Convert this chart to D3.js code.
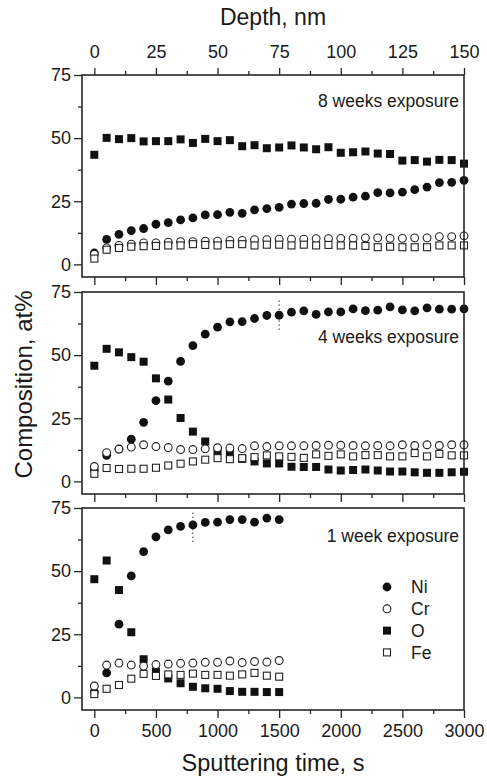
<!DOCTYPE html>
<html>
<head>
<meta charset="utf-8">
<script src="https://cdn.jsdelivr.net/npm/d3@7"></script>
<style>
  html, body { margin: 0; padding: 0; background: #fff; }
  svg { display: block; }
  text { font-family: "Liberation Sans", Arial, Helvetica, sans-serif; fill: #1a1a1a; }
</style>
</head>
<body>
<svg id="chart" width="487" height="778"></svg>
<script>
// ---------------- DATA ----------------
const timesFull = d3.range(0, 3001, 100);   // 0..3000 s, step 100
const timesShort = d3.range(0, 1501, 100);  // 0..1500 s, step 100

// 8 weeks exposure
const ni8 = [4.5, 9.9, 11.9, 13.4, 14.2, 15.9, 16.5, 17.6, 18.4, 19.6, 19.7, 20.6, 20.2, 21.6, 22.1, 22.6, 23.9, 24.1, 24.2, 25.7, 25.8, 26.6, 27.0, 28.4, 28.3, 28.6, 29.6, 30.6, 32.4, 32.5, 33.3];
const cr8 = [4.0, 6.5, 7.5, 8.0, 8.5, 8.5, 8.8, 9.0, 9.0, 9.2, 9.2, 9.5, 9.5, 9.8, 9.8, 10.0, 10.0, 10.0, 10.2, 10.2, 10.3, 10.3, 10.5, 10.5, 10.3, 10.3, 10.5, 10.5, 11.0, 11.0, 11.3];
const o8  = [43.4, 50.1, 49.6, 50.0, 48.7, 48.8, 48.8, 49.5, 48.1, 49.7, 48.8, 49.2, 46.8, 47.2, 46.0, 46.3, 47.1, 46.3, 45.6, 46.4, 44.2, 44.4, 44.7, 43.9, 43.7, 41.1, 41.3, 40.7, 41.4, 41.3, 39.9];
const fe8 = [2.3, 5.8, 6.5, 7.0, 7.2, 7.3, 7.5, 7.5, 8.0, 7.7, 7.5, 8.0, 8.0, 7.5, 7.8, 7.8, 7.5, 7.8, 7.5, 7.7, 7.5, 7.5, 7.3, 6.8, 7.0, 6.8, 6.8, 6.8, 7.5, 7.5, 7.5];

// 4 weeks exposure
const ni4 = [4.5, 10.3, 12.8, 16.7, 23.4, 32.0, 39.7, 47.5, 53.8, 58.3, 61.1, 63.2, 63.3, 64.5, 65.7, 65.8, 67.0, 67.5, 66.1, 67.1, 67.1, 68.3, 67.6, 67.8, 69.1, 67.9, 67.5, 68.7, 68.2, 68.2, 68.3];
const cr4 = [5.9, 11.4, 12.8, 13.6, 14.5, 13.8, 13.4, 12.6, 12.6, 12.9, 13.3, 13.2, 13.0, 14.1, 13.8, 14.1, 14.1, 14.1, 14.2, 14.3, 14.3, 14.2, 14.1, 14.2, 14.1, 14.5, 14.2, 14.5, 14.2, 14.5, 14.5];
const o4  = [45.8, 52.5, 51.1, 49.2, 47.4, 40.8, 32.4, 25.1, 19.7, 15.8, 12.0, 10.9, 8.9, 7.9, 7.1, 7.1, 5.8, 5.7, 5.7, 4.7, 4.3, 4.5, 4.7, 4.3, 3.9, 3.9, 3.6, 3.4, 3.4, 3.6, 3.8];
const fe4 = [3.0, 5.3, 4.9, 5.0, 5.0, 5.4, 6.3, 7.0, 7.9, 8.6, 9.2, 8.8, 9.2, 9.6, 10.3, 9.9, 9.7, 9.3, 10.7, 10.1, 10.7, 9.9, 10.4, 10.4, 9.9, 9.9, 11.2, 9.9, 10.9, 10.3, 10.3];

// 1 week exposure
const ni1 = [2.2, 9.7, 29.0, 48.1, 57.7, 63.6, 66.3, 67.7, 68.3, 69.3, 69.4, 70.4, 70.4, 69.4, 71.0, 70.4];
const cr1 = [4.5, 12.8, 13.6, 12.8, 12.4, 13.0, 13.2, 13.5, 13.6, 13.9, 13.9, 14.4, 13.8, 14.2, 14.0, 14.6];
const o1  = [46.8, 54.2, 42.5, 25.8, 15.1, 10.2, 7.5, 5.6, 4.2, 3.6, 3.4, 2.5, 2.2, 2.2, 2.1, 2.1];
const fe1 = [1.3, 3.4, 4.9, 7.4, 9.3, 8.5, 9.1, 8.9, 9.4, 8.9, 8.9, 8.6, 9.1, 9.7, 8.6, 8.2];

const panelLabels = ["8 weeks exposure", "4 weeks exposure", "1 week exposure"];
const dottedMarks = [null, {t: 1500, y0: 60, y1: 72}, {t: 800, y0: 61.5, y1: 73.5}];

const xTickValues = [0, 500, 1000, 1500, 2000, 2500, 3000];
const xMinorValues = [250, 750, 1250, 1750, 2250, 2750];
const depthTickValues = [0, 25, 50, 75, 100, 125, 150];
const depthMinorValues = [12.5, 37.5, 62.5, 87.5, 112.5, 137.5];
const yTickValues = [0, 25, 50, 75];
const yMinorValues = [12.5, 37.5, 62.5];

const elements = ["Ni", "Cr", "O", "Fe"];

const panels = [
  {times: timesFull, series: {Ni: ni8, Cr: cr8, O: o8, Fe: fe8}},
  {times: timesFull, series: {Ni: ni4, Cr: cr4, O: o4, Fe: fe4}},
  {times: timesShort, series: {Ni: ni1, Cr: cr1, O: o1, Fe: fe1}}
];

// ---------------- LAYOUT ----------------
const svg = d3.select("#chart");
const left = 82, right = 464;
const panelTops = [75, 292, 508];
const panelH = 202;
const frameColor = "#262626";

const x = d3.scaleLinear().domain([-100, 3000]).range([left, right]);
const xDepth = d3.scaleLinear().domain([-5, 150]).range([left, right]);

// draw order: Ni, O, Cr, Fe
const drawOrder = ["Ni", "O", "Cr", "Fe"];

function drawMarker(g, el, cx, cy) {
  if (el === "Ni") {
    g.append("circle").attr("cx", cx).attr("cy", cy).attr("r", 4.4).attr("fill", "#111");
  } else if (el === "Cr") {
    g.append("circle").attr("cx", cx).attr("cy", cy).attr("r", 3.9)
      .attr("fill", "#fff").attr("stroke", "#222").attr("stroke-width", 1.1);
  } else if (el === "O") {
    g.append("rect").attr("x", cx - 4).attr("y", cy - 4).attr("width", 8).attr("height", 8).attr("fill", "#111");
  } else {
    g.append("rect").attr("x", cx - 3.5).attr("y", cy - 3.5).attr("width", 7).attr("height", 7)
      .attr("fill", "#fff").attr("stroke", "#222").attr("stroke-width", 1.1);
  }
}

panels.forEach((p, i) => {
  const top = panelTops[i];
  const y = d3.scaleLinear().domain([-5, 75]).range([top + panelH, top]);
  const g = svg.append("g");

  // Left axis
  const yAxis = d3.axisLeft(y).tickValues(yTickValues).tickSize(8).tickSizeOuter(0).tickPadding(3)
    .tickFormat(d3.format("d"));
  const ya = g.append("g").attr("transform", `translate(${left},0)`).call(yAxis);
  ya.select(".domain").remove();
  ya.selectAll("line").attr("stroke", frameColor).attr("stroke-width", 1.3);
  ya.selectAll("text").attr("font-size", 18).attr("fill", "#1a1a1a")
    .style("font-family", '"Liberation Sans", Arial, sans-serif');
  const yam = g.append("g").attr("transform", `translate(${left},0)`)
    .call(d3.axisLeft(y).tickValues(yMinorValues).tickSize(4).tickSizeOuter(0).tickFormat(""));
  yam.select(".domain").remove();
  yam.selectAll("line").attr("stroke", frameColor).attr("stroke-width", 1.3);

  // Bottom axis (ticks outward)
  const xb = g.append("g").attr("transform", `translate(0,${top + panelH})`)
    .call(d3.axisBottom(x).tickValues(xTickValues).tickSize(8).tickSizeOuter(0).tickPadding(6)
      .tickFormat(i === 2 ? d3.format("d") : ""));
  xb.select(".domain").remove();
  xb.selectAll("line").attr("stroke", frameColor).attr("stroke-width", 1.3);
  xb.selectAll("text").attr("font-size", 18).attr("fill", "#1a1a1a")
    .style("font-family", '"Liberation Sans", Arial, sans-serif');
  const xbm = g.append("g").attr("transform", `translate(0,${top + panelH})`)
    .call(d3.axisBottom(x).tickValues(xMinorValues).tickSize(4).tickSizeOuter(0).tickFormat(""));
  xbm.select(".domain").remove();
  xbm.selectAll("line").attr("stroke", frameColor).attr("stroke-width", 1.3);

  // Top axis with depth on first panel
  if (i === 0) {
    const xt = g.append("g").attr("transform", `translate(0,${top})`)
      .call(d3.axisTop(xDepth).tickValues(depthTickValues).tickSize(7).tickSizeOuter(0).tickPadding(10)
        .tickFormat(d3.format("d")));
    xt.select(".domain").remove();
    xt.selectAll("line").attr("stroke", frameColor).attr("stroke-width", 1.3);
    xt.selectAll("text").attr("font-size", 18).attr("fill", "#1a1a1a")
      .style("font-family", '"Liberation Sans", Arial, sans-serif');
    const xtm = g.append("g").attr("transform", `translate(0,${top})`)
      .call(d3.axisTop(xDepth).tickValues(depthMinorValues).tickSize(4).tickSizeOuter(0).tickFormat(""));
    xtm.select(".domain").remove();
    xtm.selectAll("line").attr("stroke", frameColor).attr("stroke-width", 1.3);
  }

  // Dotted marker
  const dm = dottedMarks[i];
  if (dm) {
    g.append("line").attr("x1", x(dm.t)).attr("x2", x(dm.t)).attr("y1", y(dm.y0)).attr("y2", y(dm.y1))
      .attr("stroke", "#333").attr("stroke-width", 1).attr("stroke-dasharray", "1.5,2.5");
  }

  // Data markers
  const mg = g.append("g");
  drawOrder.forEach(el => {
    p.series[el].forEach((v, k) => drawMarker(mg, el, x(p.times[k]), y(v)));
  });

  // Frame
  g.append("rect").attr("x", left).attr("y", top).attr("width", right - left).attr("height", panelH)
    .attr("fill", "none").attr("stroke", frameColor).attr("stroke-width", 1.6);

  // Panel label
  g.append("text").attr("x", right - 5).attr("y", top + [32, 51, 34][i])
    .attr("text-anchor", "end").attr("font-size", 17.5).text(panelLabels[i]);

  // Legend in last panel
  if (i === 2) {
    const lg = g.append("g");
    elements.forEach((el, k) => {
      const ly = top + 79 + k * 21.8;
      drawMarker(lg, el, 387, ly);
      lg.append("text").attr("x", 411).attr("y", ly).attr("dy", "0.36em")
        .attr("font-size", 17.5).text(el);
    });
  }
});

// Axis titles
svg.append("text").attr("x", (left + right) / 2).attr("y", 25).attr("text-anchor", "middle")
  .attr("font-size", 23).text("Depth, nm");
svg.append("text").attr("x", (left + right) / 2).attr("y", 771).attr("text-anchor", "middle")
  .attr("font-size", 23.5).text("Sputtering time, s");
svg.append("text").attr("transform", `translate(32,${(panelTops[0] + panelTops[2] + panelH) / 2 - 8}) rotate(-90)`)
  .attr("text-anchor", "middle").attr("font-size", 24).text("Composition, at%");
</script>
</body>
</html>
